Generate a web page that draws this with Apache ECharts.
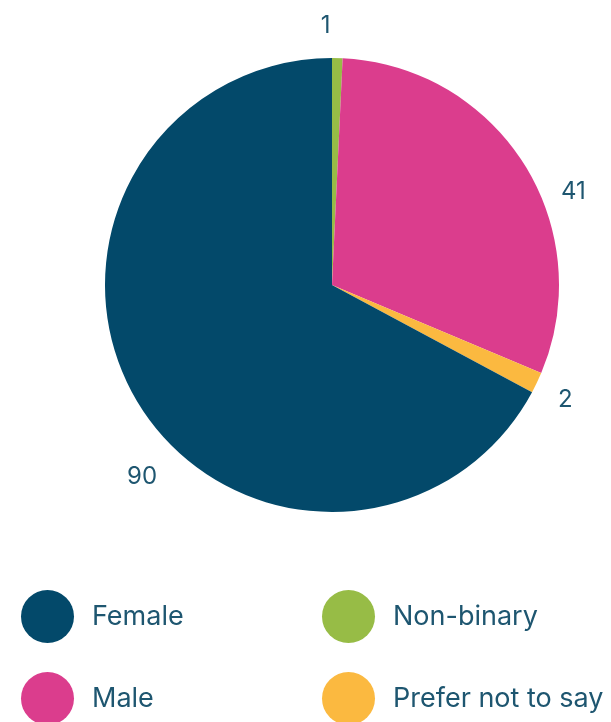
<!DOCTYPE html>
<html>
<head>
<meta charset="utf-8">
<title>Gender</title>
<script src="https://cdn.jsdelivr.net/npm/echarts@6/dist/echarts.min.js"></script>
<style>
  html, body { margin: 0; padding: 0; background: #ffffff; }
  #chart { width: 611px; height: 722px; }
</style>
</head>
<body>
<div id="chart"></div>
<script>
// Respondents by gender, in drawing order (clockwise from 12 o'clock)
const categories = ['Non-binary', 'Male', 'Prefer not to say', 'Female'];
const counts = [1, 41, 2, 90];
const sliceColors = ['#97bc46', '#db3d8d', '#fbb940', '#03496a'];

// Legend columns
const legendLeftColumn = ['Female', 'Male'];
const legendRightColumn = ['Non-binary', 'Prefer not to say'];

// Small nudges for the value labels, [dx, dy] in px, per slice
const labelNudge = [[-30, -12], [7, 39], [-10, 8], [50, 65]];

const textColor = '#1e5670';
const fontFamily = 'Inter, "Noto Sans", sans-serif';

const chart = echarts.init(document.getElementById('chart'), null, { renderer: 'canvas' });

const legendCommon = {
  orient: 'vertical',
  top: 590,
  height: 200,
  padding: 0,
  icon: 'circle',
  itemWidth: 53,
  itemHeight: 53,
  itemGap: 29,
  selectedMode: false,
  textStyle: {
    color: textColor,
    fontFamily: fontFamily,
    fontSize: 27,
    padding: [0, 0, 0, 13]
  }
};

chart.setOption({
  backgroundColor: '#ffffff',
  animation: false,
  legend: [
    Object.assign({}, legendCommon, { left: 21, data: legendLeftColumn }),
    Object.assign({}, legendCommon, { left: 322, data: legendRightColumn })
  ],
  series: [{
    type: 'pie',
    center: [332, 285],
    radius: 227,
    startAngle: 90,
    clockwise: true,
    avoidLabelOverlap: false,
    emphasis: { disabled: true },
    itemStyle: { borderWidth: 0 },
    label: {
      show: true,
      position: 'outside',
      formatter: '{c}',
      color: textColor,
      fontFamily: fontFamily,
      fontSize: 24
    },
    labelLine: { show: false, length: 20, length2: 8 },
    labelLayout: function (p) {
      const n = labelNudge[p.dataIndex];
      return { dx: n[0], dy: n[1] };
    },
    data: categories.map(function (name, i) {
      return { name: name, value: counts[i], itemStyle: { color: sliceColors[i] } };
    })
  }]
});
</script>
</body>
</html>
